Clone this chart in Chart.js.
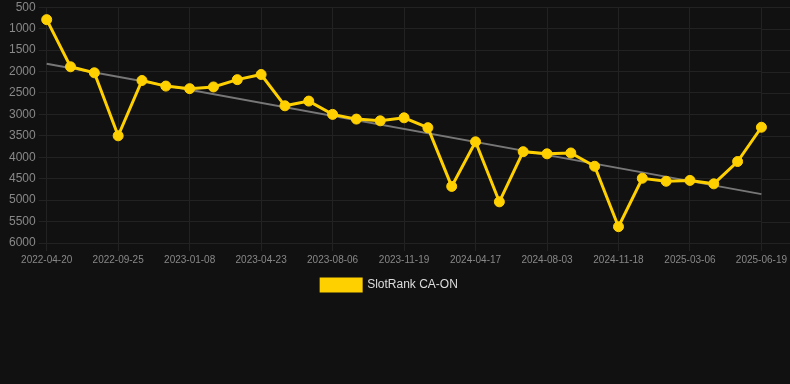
<!DOCTYPE html>
<html>
<head>
<meta charset="utf-8">
<script src="https://cdn.jsdelivr.net/npm/chart.js@4.4.1/dist/chart.umd.min.js"></script>
<style>
    html, body { margin: 0; padding: 0; background: #111111; }
    #chart-box { width: 790px; height: 301px; position: relative; }
</style>
</head>
<body>
<div id="chart-box"><canvas id="rankChart"></canvas></div>
<script>
const dates = [
    '2022-04-20', '2022-06-12', '2022-08-04', '2022-09-25', '2022-10-30', '2022-12-04',
    '2023-01-08', '2023-02-12', '2023-03-19', '2023-04-23', '2023-05-28', '2023-07-02',
    '2023-08-06', '2023-09-10', '2023-10-15', '2023-11-19', '2024-01-08', '2024-02-27',
    '2024-04-17', '2024-05-23', '2024-06-28', '2024-08-03', '2024-09-08', '2024-10-13',
    '2024-11-18', '2024-12-24', '2025-01-29', '2025-03-06', '2025-04-10', '2025-05-15',
    '2025-06-19'
]

const ranks = [
    790, 1890, 2030, 3500, 2210, 2340, 2400, 2360, 2190, 2070, 2800,
    2690, 3000, 3110, 3150, 3080, 3310, 4680, 3640, 5040, 3870,
    3920, 3900, 4210, 5620, 4490, 4560, 4540, 4620, 4100, 3300
]

// trend line: only the two end values, the rest is spanned
const trendStart = 1820
const trendEnd = 4860
const trend = dates.map((d, i) => i === 0 ? trendStart : (i === dates.length - 1 ? trendEnd : null))

const yTicks = { min: 500, max: 6000, step: 500 }

const gridColor = '#222222'

// keep the horizontal grid going to the right edge of the canvas
const gridToEdge = {
    id: 'gridToEdge',
    beforeDatasetsDraw(chart) {
        const { ctx, chartArea, scales } = chart
        ctx.save()
        ctx.strokeStyle = gridColor
        ctx.lineWidth = 1
        scales.y.ticks.forEach(t => {
            const y = Math.round(scales.y.getPixelForValue(t.value)) + 0.5
            ctx.beginPath()
            ctx.moveTo(chartArea.right, y)
            ctx.lineTo(chart.width, y)
            ctx.stroke()
        })
        ctx.restore()
    }
}

const ctx = document.getElementById('rankChart')

new Chart(ctx, {
    type: 'line',
    data: {
        labels: dates,
        datasets: [
            {
                label: 'SlotRank CA-ON',
                data: ranks,
                borderColor: '#FFD000',
                backgroundColor: '#FFD000',
                borderWidth: 3,
                pointRadius: 5,
                pointBorderWidth: 1,
                pointBackgroundColor: '#FFD000',
                pointBorderColor: '#FFD000',
                tension: 0,
                order: 1
            },
            {
                label: 'trend',
                data: trend,
                borderColor: '#777777',
                borderWidth: 2,
                pointRadius: 0,
                spanGaps: true,
                order: 2
            }
        ]
    },
    options: {
        responsive: true,
        maintainAspectRatio: false,
        animation: false,
        layout: { padding: { left: 6, right: 17 } },
        plugins: {
            tooltip: { enabled: false },
            legend: {
                position: 'bottom',
                labels: {
                    color: '#dddddd',
                    font: { family: 'Liberation Sans', size: 12 },
                    boxWidth: 40,
                    boxHeight: 12,
                    filter: item => item.text !== 'trend'
                }
            }
        },
        scales: {
            x: {
                offset: false,
                grid: {
                    color: c => (c.index % 3 === 0 ? gridColor : 'transparent'),
                    tickLength: 8
                },
                border: { display: false },
                ticks: {
                    autoSkip: false,
                    maxRotation: 0,
                    color: '#888888',
                    font: { family: 'Liberation Sans', size: 10 },
                    callback: function (val, i) {
                        return i % 3 === 0 ? this.getLabelForValue(val) : ''
                    }
                }
            },
            y: {
                reverse: true,
                min: yTicks.min,
                max: yTicks.max,
                grid: { color: gridColor, tickLength: 8 },
                border: { display: false },
                ticks: {
                    stepSize: yTicks.step,
                    color: '#888888',
                    font: { family: 'Liberation Sans', size: 12, lineHeight: 0.7 },
                    callback: v => String(v)
                }
            }
        }
    },
    plugins: [gridToEdge]
})
</script>
</body>
</html>
